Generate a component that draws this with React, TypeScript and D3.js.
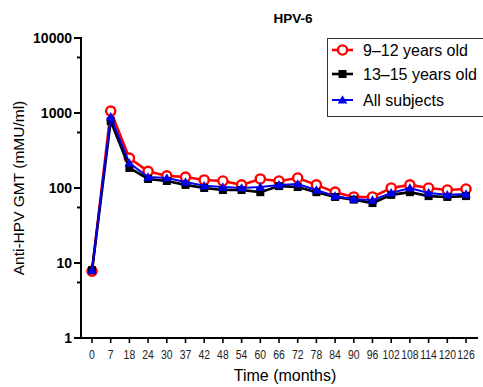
import React from "react";
import * as d3 from "d3";

const months = ["0","7","18","24","30","37","42","48","54","60","66","72","78","84","90","96","102","108","114","120","126"];
const age9to12 = [7.8,1060,250,167,145,140,128,124,110,132,124,136,110,88,76,76,100,110,100,94,97];
const age13to15 = [8,780,185,132,124,110,100,94,94,88,106,103,88,76,70,63,81,88,78,76,78];
const allSubjects = [8,890,215,140,136,120,107,103,100,103,110,113,94,78,71,69,86,100,86,81,83];
const yTicks = [1,10,100,1000,10000];
const yMinorTicks = [5.5,55,550,5500];
const seriesNames = ["9–12 years old","13–15 years old","All subjects"];

const W = 483, H = 387;

export default function App() {
  const x = d3.scalePoint<string>().domain(months).range([92, 466]);
  const y = d3.scaleLog().domain([1, 10000]).range([338, 38]);
  const line = d3.line<number>().x((_, i) => x(months[i]) as number).y(d => y(d));

  const series = [
    { name: seriesNames[0], data: age9to12, color: "#ff0000", marker: "circle", width: 2.6 },
    { name: seriesNames[1], data: age13to15, color: "#000000", marker: "square", width: 2.6 },
    { name: seriesNames[2], data: allSubjects, color: "#0000ee", marker: "triangle", width: 2 },
  ];

  const marker = (type: string, cx: number, cy: number, color: string, key: string) => {
    if (type === "circle") return <circle key={key} cx={cx} cy={cy} r={4.6} fill="#fff" stroke={color} strokeWidth={2.4} />;
    if (type === "square") return <rect key={key} x={cx - 4} y={cy - 4} width={8} height={8} fill={color} />;
    const s = 4.8;
    return <path key={key} d={`M${cx},${cy - s}L${cx + s},${cy + s * 0.75}L${cx - s},${cy + s * 0.75}Z`} fill={color} />;
  };

  const legendRows = [50, 74, 100];

  return (
    <svg width={W} height={H} style={{ position: "absolute", left: 0, top: 0, background: "#fff" }} fontFamily="Liberation Sans, Arial, sans-serif">
      <text x={293} y={23} textAnchor="middle" fontWeight="bold" fontSize={13.5}>HPV-6</text>

      {/* Y axis */}
      <line x1={81} x2={81} y1={37} y2={339} stroke="#000" strokeWidth={2} />
      {yTicks.map(t => (
        <g key={t}>
          <line x1={74} x2={81} y1={y(t)} y2={y(t)} stroke="#000" strokeWidth={2} />
          <text x={72} y={y(t) + 5} textAnchor="end" fontWeight="bold" fontSize={14}>{t}</text>
        </g>
      ))}
      {yMinorTicks.map(t => (
        <line key={t} x1={77} x2={81} y1={y(t)} y2={y(t)} stroke="#000" strokeWidth={2} />
      ))}
      <text transform="translate(24,188) rotate(-90)" textAnchor="middle" fontSize={15.5}>Anti-HPV GMT (mMU/ml)</text>

      {/* X axis */}
      <line x1={80} x2={478} y1={338} y2={338} stroke="#000" strokeWidth={2} />
      {months.map(m => (
        <g key={m}>
          <line x1={x(m)} x2={x(m)} y1={338} y2={343} stroke="#000" strokeWidth={1.6} />
          <text transform={`translate(${x(m)},359) scale(0.8,1)`} textAnchor="middle" fontSize={13} fill="#222">{m}</text>
        </g>
      ))}
      <text x={285} y={381} textAnchor="middle" fontSize={16}>Time (months)</text>

      {/* Series */}
      {series.map(s => (
        <g key={s.name}>
          <path d={line(s.data) || ""} fill="none" stroke={s.color} strokeWidth={s.width} />
          {s.data.map((v, i) => marker(s.marker, x(months[i]) as number, y(v), s.color, s.name + i))}
        </g>
      ))}

      {/* Legend */}
      <rect x={327.5} y={38.5} width={160} height={78} fill="#fff" stroke="#333" strokeWidth={1} />
      {series.map((s, i) => (
        <g key={s.name}>
          <line x1={332} x2={353} y1={legendRows[i]} y2={legendRows[i]} stroke={s.color} strokeWidth={s.width} />
          {marker(s.marker, 342.5, legendRows[i], s.color, "lg" + i)}
          <text x={363} y={legendRows[i] + 5.5} fontSize={16}>{s.name}</text>
        </g>
      ))}
    </svg>
  );
}
